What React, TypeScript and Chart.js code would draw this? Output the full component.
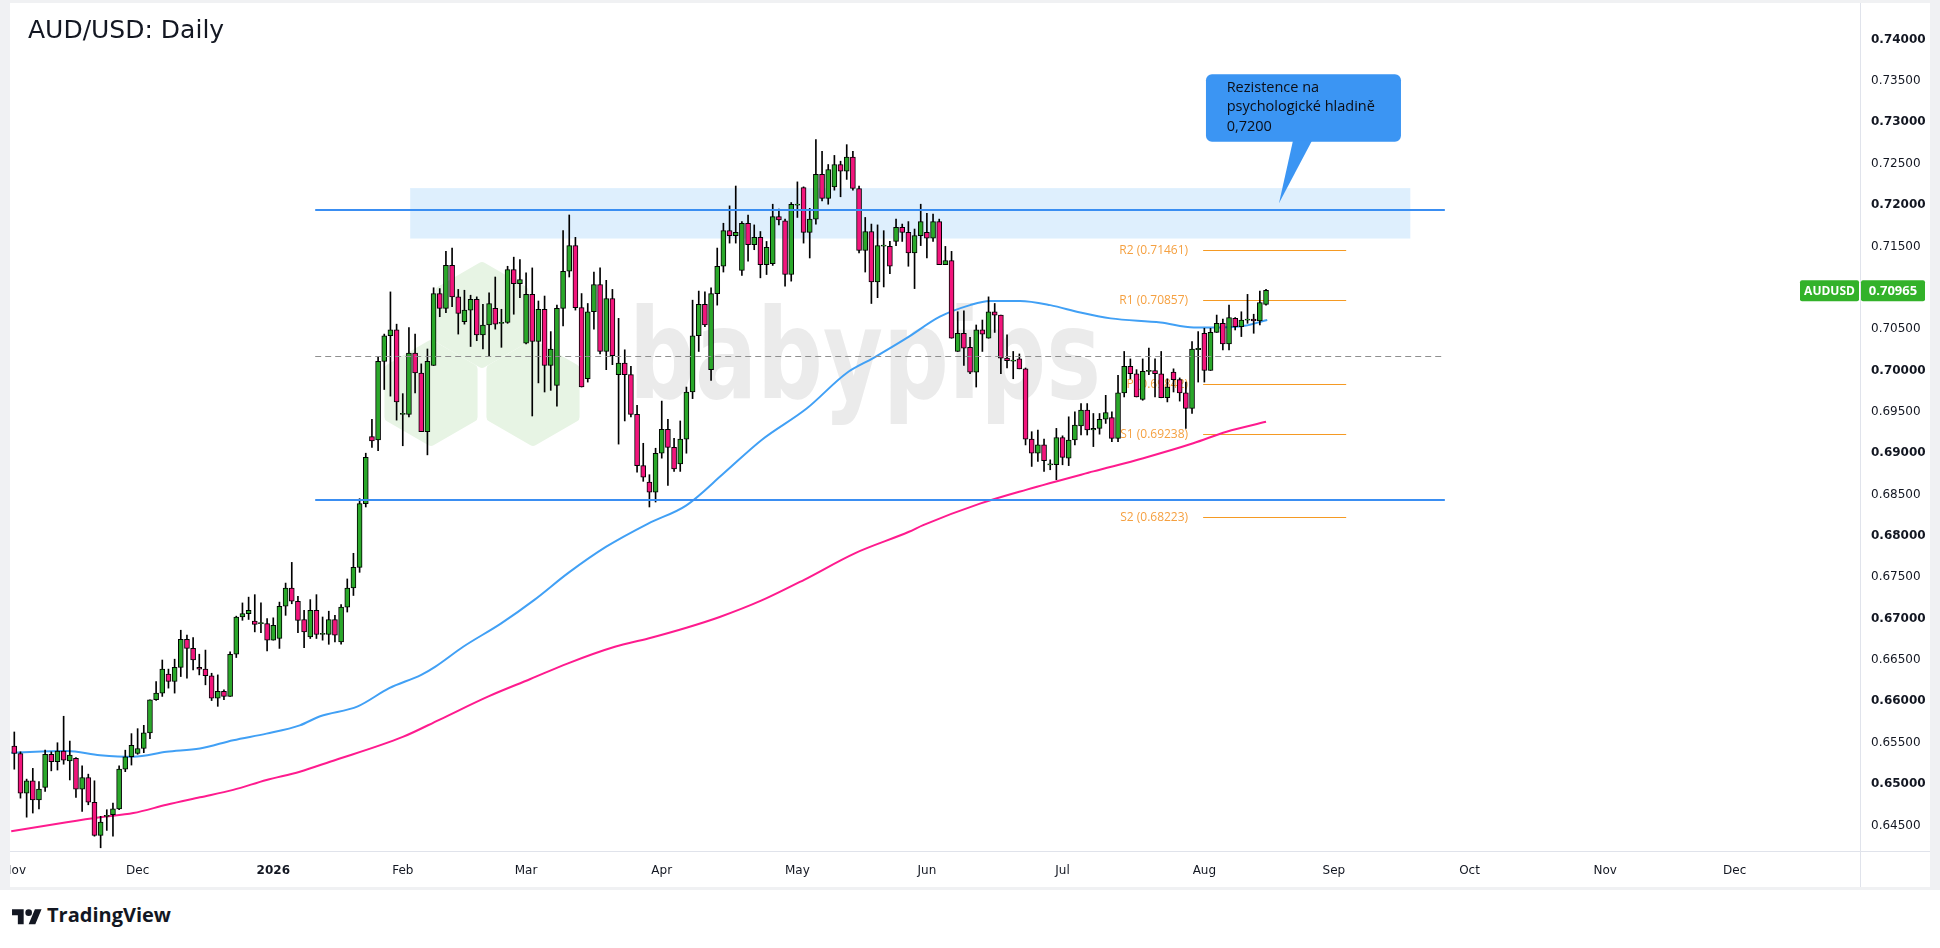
import React, { useEffect, useRef } from "react";
import { Chart, registerables } from "chart.js";

Chart.register(...registerables);

const AXIS_FONT = "'DejaVu Sans', sans-serif";
const UI_FONT = "'Open Sans', sans-serif";
const UP = "#2aa82a";
const DOWN = "#f2157c";
const TEXT = "#131722";

// ---- Daily candles (bar index 0 = first bar of Nov 2025) ----
const opens = [
  0.6546, 0.6537, 0.6489, 0.6504, 0.6481, 0.6496, 0.6536, 0.6527, 0.6540, 0.6528,
  0.6531, 0.6494, 0.6508, 0.6478, 0.6438, 0.6461, 0.6463, 0.6470, 0.6518, 0.6533,
  0.6537, 0.6543, 0.6562, 0.6602, 0.6610, 0.6633, 0.6624, 0.6641, 0.6675, 0.6664,
  0.6641, 0.6639, 0.6631, 0.6604, 0.6612, 0.6606, 0.6657, 0.6702, 0.6706, 0.6697,
  0.6694, 0.6694, 0.6674, 0.6676, 0.6715, 0.6737, 0.6721, 0.6699, 0.6678, 0.6710,
  0.6681, 0.6681, 0.6699, 0.6672, 0.6714, 0.6737, 0.6762, 0.6839, 0.6920, 0.6916,
  0.7011, 0.7042, 0.7049, 0.6947, 0.6947, 0.7021, 0.6997, 0.6926, 0.7006, 0.7093,
  0.7075, 0.7127, 0.7089, 0.7059, 0.7073, 0.7086, 0.7043, 0.7055, 0.7075, 0.7057,
  0.7058, 0.7122, 0.7105, 0.7033, 0.7092, 0.7035, 0.7074, 0.7006, 0.6982, 0.7075,
  0.7120, 0.7151, 0.7076, 0.6990, 0.7071, 0.7104, 0.7023, 0.7087, 0.6995, 0.7009,
  0.6995, 0.6947, 0.6885, 0.6865, 0.6853, 0.6900, 0.6929, 0.6907, 0.6887, 0.6917,
  0.6974, 0.7042, 0.7080, 0.7001, 0.7093, 0.7126, 0.7169, 0.7163, 0.7121, 0.7178,
  0.7152, 0.7161, 0.7128, 0.7129, 0.7186, 0.7181, 0.7116, 0.7200, 0.7221, 0.7167,
  0.7183, 0.7237, 0.7208, 0.7222, 0.7249, 0.7241, 0.7258, 0.7220, 0.7145, 0.7168,
  0.7107, 0.7151, 0.7150, 0.7156, 0.7173, 0.7167, 0.7142, 0.7163, 0.7167, 0.7160,
  0.7180, 0.7128, 0.7133, 0.7023, 0.7045, 0.7028, 0.6998, 0.7049, 0.7039, 0.7071,
  0.7067, 0.7015, 0.7012, 0.7014, 0.7002, 0.6917, 0.6900, 0.6910, 0.6886, 0.6886,
  0.6919, 0.6894, 0.6916, 0.6933, 0.6952, 0.6928, 0.6930, 0.6941, 0.6943, 0.6918,
  0.6973, 0.7005, 0.6996, 0.6965, 0.6999, 0.7000, 0.6996, 0.6967, 0.6998, 0.6989,
  0.6973, 0.6954, 0.7026, 0.7045, 0.7000, 0.7046, 0.7057, 0.7032, 0.7063, 0.7053,
  0.7061, 0.7062, 0.7060, 0.7080,
];

const highs = [
  0.6563, 0.6539, 0.6506, 0.6519, 0.6503, 0.6541, 0.6539, 0.6550, 0.6582, 0.6552,
  0.6532, 0.6522, 0.6512, 0.6504, 0.6461, 0.6469, 0.6477, 0.6522, 0.6541, 0.6561,
  0.6567, 0.6571, 0.6602, 0.6624, 0.6650, 0.6639, 0.6651, 0.6686, 0.6680, 0.6677,
  0.6657, 0.6662, 0.6634, 0.6632, 0.6614, 0.6660, 0.6703, 0.6719, 0.6726, 0.6729,
  0.6719, 0.6700, 0.6701, 0.6720, 0.6743, 0.6768, 0.6727, 0.6710, 0.6723, 0.6729,
  0.6702, 0.6709, 0.6704, 0.6717, 0.6748, 0.6779, 0.6845, 0.6900, 0.6941, 0.7016,
  0.7044, 0.7095, 0.7056, 0.6972, 0.7052, 0.7044, 0.7008, 0.7026, 0.7100, 0.7099,
  0.7144, 0.7148, 0.7098, 0.7097, 0.7091, 0.7089, 0.7080, 0.7094, 0.7113, 0.7074,
  0.7126, 0.7137, 0.7134, 0.7118, 0.7124, 0.7084, 0.7090, 0.7047, 0.7079, 0.7169,
  0.7188, 0.7161, 0.7093, 0.7081, 0.7119, 0.7124, 0.7109, 0.7098, 0.7063, 0.7025,
  0.7005, 0.6958, 0.6912, 0.6874, 0.6906, 0.6963, 0.6941, 0.6918, 0.6939, 0.6980,
  0.7085, 0.7096, 0.7095, 0.7100, 0.7148, 0.7178, 0.7199, 0.7223, 0.7180, 0.7188,
  0.7176, 0.7168, 0.7156, 0.7201, 0.7195, 0.7183, 0.7203, 0.7228, 0.7222, 0.7196,
  0.7279, 0.7265, 0.7249, 0.7260, 0.7253, 0.7273, 0.7265, 0.7223, 0.7185, 0.7177,
  0.7176, 0.7169, 0.7156, 0.7183, 0.7177, 0.7180, 0.7171, 0.7201, 0.7190, 0.7189,
  0.7183, 0.7150, 0.7144, 0.7071, 0.7072, 0.7040, 0.7055, 0.7061, 0.7089, 0.7081,
  0.7067, 0.7043, 0.7023, 0.7020, 0.7003, 0.6926, 0.6928, 0.6917, 0.6892, 0.6930,
  0.6921, 0.6944, 0.6950, 0.6960, 0.6960, 0.6948, 0.6948, 0.6970, 0.6950, 0.6994,
  0.7023, 0.7014, 0.7001, 0.7014, 0.7027, 0.7014, 0.7023, 0.6990, 0.7002, 0.6991,
  0.6986, 0.7035, 0.7047, 0.7051, 0.7051, 0.7067, 0.7062, 0.7079, 0.7064, 0.7071,
  0.7092, 0.7068, 0.7096, 0.7098,
];

const lows = [
  0.6518, 0.6483, 0.6460, 0.6465, 0.6470, 0.6491, 0.6516, 0.6517, 0.6524, 0.6505,
  0.6484, 0.6467, 0.6475, 0.6437, 0.6423, 0.6444, 0.6437, 0.6469, 0.6515, 0.6523,
  0.6536, 0.6538, 0.6555, 0.6601, 0.6606, 0.6616, 0.6610, 0.6630, 0.6628, 0.6638,
  0.6632, 0.6620, 0.6601, 0.6594, 0.6602, 0.6606, 0.6653, 0.6698, 0.6699, 0.6684,
  0.6683, 0.6661, 0.6674, 0.6664, 0.6704, 0.6718, 0.6683, 0.6665, 0.6676, 0.6676,
  0.6674, 0.6669, 0.6672, 0.6669, 0.6708, 0.6728, 0.6756, 0.6835, 0.6907, 0.6903,
  0.6977, 0.6969, 0.6940, 0.6909, 0.6944, 0.6973, 0.6926, 0.6898, 0.7006, 0.7065,
  0.7070, 0.7077, 0.7044, 0.7056, 0.7029, 0.7036, 0.7026, 0.7017, 0.7050, 0.7028,
  0.7057, 0.7068, 0.7088, 0.7032, 0.6945, 0.6985, 0.6974, 0.6976, 0.6957, 0.7054,
  0.7113, 0.7073, 0.6980, 0.6986, 0.7050, 0.7020, 0.7001, 0.7007, 0.6911, 0.6939,
  0.6944, 0.6877, 0.6866, 0.6835, 0.6841, 0.6894, 0.6861, 0.6878, 0.6878, 0.6900,
  0.6966, 0.7023, 0.7053, 0.6988, 0.7079, 0.7119, 0.7154, 0.7154, 0.7115, 0.7132,
  0.7146, 0.7112, 0.7116, 0.7127, 0.7176, 0.7102, 0.7108, 0.7185, 0.7154, 0.7136,
  0.7177, 0.7205, 0.7201, 0.7218, 0.7210, 0.7231, 0.7218, 0.7142, 0.7119, 0.7081,
  0.7088, 0.7101, 0.7117, 0.7151, 0.7156, 0.7126, 0.7099, 0.7151, 0.7136, 0.7156,
  0.7128, 0.7128, 0.7039, 0.7023, 0.7006, 0.6996, 0.6980, 0.7023, 0.7039, 0.7046,
  0.6996, 0.7003, 0.6990, 0.7002, 0.6910, 0.6884, 0.6890, 0.6878, 0.6880, 0.6868,
  0.6886, 0.6885, 0.6910, 0.6922, 0.6922, 0.6908, 0.6923, 0.6936, 0.6914, 0.6914,
  0.6968, 0.6990, 0.6968, 0.6964, 0.6995, 0.6968, 0.6967, 0.6962, 0.6974, 0.6963,
  0.6930, 0.6948, 0.6986, 0.6986, 0.7000, 0.7046, 0.7025, 0.7025, 0.7049, 0.7041,
  0.7057, 0.7045, 0.7055, 0.7079,
];

const closes = [
  0.6537, 0.6489, 0.6504, 0.6481, 0.6494, 0.6536, 0.6527, 0.6540, 0.6529, 0.6535,
  0.6494, 0.6508, 0.6478, 0.6438, 0.6454, 0.6462, 0.6470, 0.6518, 0.6533, 0.6547,
  0.6543, 0.6562, 0.6602, 0.6610, 0.6639, 0.6624, 0.6641, 0.6675, 0.6664, 0.6650,
  0.6639, 0.6631, 0.6604, 0.6612, 0.6606, 0.6657, 0.6702, 0.6706, 0.6710, 0.6693,
  0.6695, 0.6674, 0.6692, 0.6715, 0.6737, 0.6721, 0.6698, 0.6684, 0.6710, 0.6681,
  0.6682, 0.6699, 0.6680, 0.6714, 0.6737, 0.6762, 0.6839, 0.6895, 0.6915, 0.7011,
  0.7042, 0.7049, 0.6962, 0.6948, 0.7021, 0.6997, 0.6926, 0.7011, 0.7093, 0.7075,
  0.7127, 0.7089, 0.7069, 0.7073, 0.7086, 0.7043, 0.7055, 0.7081, 0.7056, 0.7058,
  0.7122, 0.7105, 0.7110, 0.7092, 0.7035, 0.7074, 0.7006, 0.7026, 0.7075, 0.7120,
  0.7151, 0.7076, 0.6980, 0.7071, 0.7104, 0.7023, 0.7087, 0.7018, 0.7009, 0.6995,
  0.6947, 0.6885, 0.6871, 0.6853, 0.6900, 0.6929, 0.6907, 0.6881, 0.6917, 0.6974,
  0.7042, 0.7080, 0.7055, 0.7093, 0.7126, 0.7169, 0.7163, 0.7167, 0.7178, 0.7152,
  0.7161, 0.7128, 0.7149, 0.7186, 0.7182, 0.7116, 0.7201, 0.7201, 0.7167, 0.7183,
  0.7237, 0.7208, 0.7243, 0.7249, 0.7241, 0.7258, 0.7220, 0.7145, 0.7168, 0.7107,
  0.7151, 0.7151, 0.7126, 0.7173, 0.7167, 0.7142, 0.7163, 0.7180, 0.7160, 0.7180,
  0.7128, 0.7133, 0.7039, 0.7045, 0.7027, 0.6998, 0.7049, 0.7044, 0.7071, 0.7067,
  0.7015, 0.7012, 0.7012, 0.7002, 0.6917, 0.6900, 0.6910, 0.6891, 0.6887, 0.6919,
  0.6895, 0.6916, 0.6934, 0.6952, 0.6928, 0.6930, 0.6941, 0.6949, 0.6918, 0.6973,
  0.7005, 0.6996, 0.6968, 0.6999, 0.7000, 0.6996, 0.6967, 0.6980, 0.6989, 0.6973,
  0.6954, 0.7026, 0.7026, 0.7000, 0.7046, 0.7057, 0.7032, 0.7064, 0.7053, 0.7061,
  0.7062, 0.7060, 0.7082, 0.7097,
];

// ---- Moving averages (bar index, value) ----
const blueMaIdx = [
  -0.5, 8.5, 13.9, 19.3, 24.7, 30.1, 35.5, 40.9, 46.3, 49.6, 55.7, 60.8, 66.0, 68.3,
  72.8, 78.9, 84.4, 89.8, 96.0, 102.8, 109.0, 115.1, 121.2, 128.5, 135.0, 139.3,
  144.7, 150.1, 155.0, 158.2, 163.1, 168.0, 172.9, 177.8, 185.9, 191.3, 195.7, 199.5, 203.2,
];
const blueMaVal = [
  0.6538, 0.6540, 0.6535, 0.6533, 0.6539, 0.6543, 0.6553, 0.6561, 0.6571, 0.6582, 0.6594,
  0.6616, 0.6632, 0.6642, 0.6666, 0.6694, 0.6723, 0.6755, 0.6787, 0.6815, 0.6837, 0.6876,
  0.6916, 0.6954, 0.6997, 0.7015, 0.7039, 0.7065, 0.7079, 0.7084, 0.7084, 0.7079, 0.7070,
  0.7063, 0.7058, 0.7052, 0.7052, 0.7054, 0.7061,
];
const pinkMaIdx = [
  -0.5, 8.5, 13.9, 19.3, 24.7, 30.1, 35.5, 40.9, 46.3, 51.2, 63.0, 69.0, 76.9, 83.7,
  89.8, 97.4, 102.8, 109.0, 114.4, 121.2, 128.1, 136.3, 145.1, 147.4, 156.6, 164.2,
  175.0, 183.1, 191.2, 196.6, 203.0,
];
const pinkMaVal = [
  0.6443, 0.6454, 0.6460, 0.6465, 0.6475, 0.6484, 0.6493, 0.6505, 0.6515, 0.6527, 0.6557,
  0.6578, 0.6606, 0.6627, 0.6646, 0.6666, 0.6676, 0.6689, 0.6702, 0.6722, 0.6747, 0.6779,
  0.6805, 0.6813, 0.6839, 0.6856, 0.6878, 0.6894, 0.6912, 0.6926, 0.6938,
];

// ---- Axis ticks ----
const monthLabels = ["Nov", "Dec", "2026", "Feb", "Mar", "Apr", "May", "Jun", "Jul", "Aug", "Sep", "Oct", "Nov", "Dec"];
const monthBarIdx = [0, 20, 42, 63, 83, 105, 127, 148, 170, 193, 214, 236, 258, 279];
const priceTicks = [
  0.645, 0.65, 0.655, 0.66, 0.665, 0.67, 0.675, 0.68, 0.685, 0.69,
  0.695, 0.7, 0.705, 0.71, 0.715, 0.72, 0.725, 0.73, 0.735, 0.74,
];

// ---- Drawings ----
const resistanceLevels = [0.71935, 0.6843];
const levelStartIdx = 48.8;
const levelEndIdx = 232.0;
const zoneTop = 0.72205;
const zoneBottom = 0.71595;
const zoneStartIdx = 64.2;
const zoneEndIdx = 226.4;
const midLevel = 0.70175;
const pivotNames = ["R2", "R1", "P", "S1", "S2"];
const pivotValues = [0.71461, 0.70857, 0.69842, 0.69238, 0.68223];
const pivotStartIdx = 192.8;
const pivotEndIdx = 216;
const lastPrice = 0.70965;
const calloutIdx = 205.1;
const calloutPrice = 0.72021;
const calloutLines = ["Rezistence na", "psychologické hladině", "0,7200"];

const xMin = -0.6974;
const xMax = 299.33;
const yMin = 0.641911;
const yMax = 0.744425;

function roundRectPath(ctx: CanvasRenderingContext2D, x: number, y: number, w: number, h: number, r: number) {
  ctx.beginPath();
  ctx.moveTo(x + r, y);
  ctx.arcTo(x + w, y, x + w, y + h, r);
  ctx.arcTo(x + w, y + h, x, y + h, r);
  ctx.arcTo(x, y + h, x, y, r);
  ctx.arcTo(x, y, x + w, y, r);
  ctx.closePath();
}

function hexPath(ctx: CanvasRenderingContext2D, cx: number, cy: number, r: number) {
  ctx.beginPath();
  for (let k = 0; k < 6; k++) {
    const a = (Math.PI / 180) * (60 * k - 90);
    const px = cx + r * Math.cos(a);
    const py = cy + r * Math.sin(a);
    if (k === 0) ctx.moveTo(px, py);
    else ctx.lineTo(px, py);
  }
  ctx.closePath();
}

const overlayPlugin = {
  id: "overlay",
  beforeDatasetsDraw(chart: any) {
    const { ctx, chartArea: a, scales } = chart;
    const x = scales.x;
    const y = scales.y;
    ctx.save();
    ctx.beginPath();
    ctx.rect(a.left, a.top, a.right - a.left, a.bottom - a.top);
    ctx.clip();

    // watermark: hexagons
    ctx.fillStyle = "#e7f4e4";
    ctx.strokeStyle = "#e7f4e4";
    ctx.lineWidth = 10;
    ctx.lineJoin = "round";
    const hexes = [
      [472, 312],
      [421, 390],
      [523, 390],
    ];
    hexes.forEach(([cx, cy]) => {
      hexPath(ctx, cx, cy, 48);
      ctx.fill();
      ctx.stroke();
    });

    // watermark: text
    ctx.font = `bold 125px ${AXIS_FONT}`;
    const w = ctx.measureText("babypips").width;
    ctx.save();
    ctx.translate(619, 395);
    ctx.scale(472 / w, 1);
    ctx.fillStyle = "#ebebeb";
    ctx.textAlign = "left";
    ctx.textBaseline = "alphabetic";
    ctx.fillText("babypips", 0, 0);
    ctx.restore();

    // resistance zone
    const zx1 = x.getPixelForValue(zoneStartIdx);
    const zx2 = x.getPixelForValue(zoneEndIdx);
    const zy1 = y.getPixelForValue(zoneTop);
    const zy2 = y.getPixelForValue(zoneBottom);
    ctx.fillStyle = "rgba(33,150,243,0.15)";
    ctx.fillRect(zx1, zy1, zx2 - zx1, zy2 - zy1);

    // pivot points
    const px1 = x.getPixelForValue(pivotStartIdx);
    const px2 = x.getPixelForValue(pivotEndIdx);
    ctx.font = `12px ${UI_FONT}`;
    ctx.textAlign = "right";
    ctx.textBaseline = "middle";
    pivotValues.forEach((v, i) => {
      const py = Math.round(y.getPixelForValue(v)) + 0.5;
      ctx.strokeStyle = "#f59a23";
      ctx.lineWidth = 1;
      ctx.beginPath();
      ctx.moveTo(px1, py);
      ctx.lineTo(px2, py);
      ctx.stroke();
      ctx.fillStyle = "#f5a040";
      ctx.fillText(`${pivotNames[i]} (${v.toFixed(5)})`, px1 - 15, py);
    });
    ctx.restore();
  },
  afterDatasetsDraw(chart: any) {
    const { ctx, chartArea: a, scales } = chart;
    const x = scales.x;
    const y = scales.y;
    ctx.save();
    ctx.beginPath();
    ctx.rect(a.left, a.top, a.right - a.left, a.bottom - a.top);
    ctx.clip();
    const lx1 = x.getPixelForValue(levelStartIdx);
    const lx2 = x.getPixelForValue(levelEndIdx);

    // dashed level
    const dy = Math.round(y.getPixelForValue(midLevel)) + 0.5;
    ctx.strokeStyle = "#8f8f8f";
    ctx.lineWidth = 1;
    ctx.setLineDash([6, 4]);
    ctx.beginPath();
    ctx.moveTo(lx1, dy);
    ctx.lineTo(lx2, dy);
    ctx.stroke();
    ctx.setLineDash([]);

    // horizontal resistance/support lines
    ctx.strokeStyle = "#3a8ef2";
    ctx.lineWidth = 2;
    resistanceLevels.forEach((v) => {
      const ly = Math.round(y.getPixelForValue(v));
      ctx.beginPath();
      ctx.moveTo(lx1, ly);
      ctx.lineTo(lx2, ly);
      ctx.stroke();
    });
    ctx.restore();
  },
  afterDraw(chart: any) {
    const { ctx, chartArea: a, scales, width, height } = chart;
    const x = scales.x;
    const y = scales.y;
    ctx.save();

    // axis separators
    ctx.strokeStyle = "#e0e3eb";
    ctx.lineWidth = 1;
    ctx.beginPath();
    ctx.moveTo(Math.round(a.right) + 0.5, 0);
    ctx.lineTo(Math.round(a.right) + 0.5, height);
    ctx.moveTo(0, Math.round(a.bottom) + 0.5);
    ctx.lineTo(width, Math.round(a.bottom) + 0.5);
    ctx.stroke();

    // last price labels
    const ly = y.getPixelForValue(lastPrice);
    ctx.fillStyle = "#33b22a";
    roundRectPath(ctx, a.right - 60, ly - 10.5, 59, 21, 2);
    ctx.fill();
    roundRectPath(ctx, a.right + 1, ly - 10.5, 64, 21, 2);
    ctx.fill();
    ctx.fillStyle = "#ffffff";
    ctx.textBaseline = "middle";
    ctx.textAlign = "center";
    ctx.font = `bold 12px ${UI_FONT}`;
    ctx.fillText("AUDUSD", a.right - 30.5, ly + 0.5);
    ctx.font = `bold 13px ${UI_FONT}`;
    ctx.fillText(lastPrice.toFixed(5), a.right + 33, ly + 0.5);

    // callout
    const tx = x.getPixelForValue(calloutIdx);
    const ty = y.getPixelForValue(calloutPrice);
    const bx = tx - 73;
    const by = ty - 129;
    const bw = 195;
    const bh = 67.4;
    ctx.fillStyle = "#3b95f3";
    roundRectPath(ctx, bx, by, bw, bh, 6);
    ctx.fill();
    ctx.beginPath();
    ctx.moveTo(tx + 14, by + bh - 1);
    ctx.lineTo(tx + 33, by + bh - 1);
    ctx.lineTo(tx, ty);
    ctx.closePath();
    ctx.fill();
    ctx.fillStyle = "#0b0e16";
    ctx.font = `500 14.5px ${UI_FONT}`;
    ctx.textAlign = "left";
    ctx.textBaseline = "alphabetic";
    calloutLines.forEach((t, i) => {
      ctx.fillText(t, bx + 20.7, ty - 111.3 + i * 19.3);
    });
    ctx.restore();
  },
};

function buildConfig() {
  const wickData = lows.map((l, i) => ({ x: i, y: [l, highs[i]] }));
  const bodyData = opens.map((o, i) => {
    const c = closes[i];
    let lo = Math.min(o, c);
    let hi = Math.max(o, c);
    if (hi - lo < 0.00012) {
      const m = (lo + hi) / 2;
      lo = m - 0.00007;
      hi = m + 0.00007;
    }
    return { x: i, y: [lo, hi] };
  });
  const blueData = blueMaIdx.map((ix, i) => ({ x: ix, y: blueMaVal[i] }));
  const pinkData = pinkMaIdx.map((ix, i) => ({ x: ix, y: pinkMaVal[i] }));

  return {
    type: "bar",
    data: {
      datasets: [
        {
          type: "line",
          label: "MA 200",
          data: pinkData,
          borderColor: "#fe1b8e",
          borderWidth: 2,
          pointRadius: 0,
          fill: false,
          cubicInterpolationMode: "monotone",
          order: 3,
        },
        {
          type: "line",
          label: "MA 100",
          data: blueData,
          borderColor: "#41a0f5",
          borderWidth: 2,
          pointRadius: 0,
          fill: false,
          cubicInterpolationMode: "monotone",
          order: 2,
        },
        {
          type: "bar",
          label: "wicks",
          data: wickData,
          backgroundColor: "#000000",
          borderWidth: 0,
          barThickness: 1,
          grouped: false,
          order: 1,
        },
        {
          type: "bar",
          label: "bodies",
          data: bodyData,
          backgroundColor: (c: any) =>
            closes[c.dataIndex] >= opens[c.dataIndex] ? UP : DOWN,
          borderColor: "#000000",
          borderWidth: 1,
          borderSkipped: false,
          barThickness: 5,
          grouped: false,
          order: 0,
        },
      ],
    },
    options: {
      animation: false,
      responsive: false,
      events: [],
      layout: { padding: 0 },
      plugins: {
        legend: { display: false },
        tooltip: { enabled: false },
        title: { display: false },
      },
      scales: {
        x: {
          type: "linear",
          min: xMin,
          max: xMax,
          offset: false,
          grid: { display: false, drawTicks: false },
          border: { display: false },
          afterBuildTicks: (s: any) => {
            s.ticks = monthBarIdx.map((v) => ({ value: v }));
          },
          afterFit: (s: any) => {
            s.height = 36;
            s.paddingLeft = 0;
            s.paddingRight = 0;
          },
          ticks: {
            autoSkip: false,
            maxRotation: 0,
            minRotation: 0,
            padding: 13,
            color: TEXT,
            font: (c: any) => ({
              family: AXIS_FONT,
              size: 12,
              weight: monthLabels[c.index] === "2026" ? "bold" : "normal",
            }),
            callback: (_v: any, i: number) => monthLabels[i],
          },
        },
        y: {
          type: "linear",
          position: "right",
          min: yMin,
          max: yMax,
          grid: { display: false, drawTicks: false },
          border: { display: false },
          afterBuildTicks: (s: any) => {
            s.ticks = priceTicks.map((v) => ({ value: v }));
          },
          afterFit: (s: any) => {
            s.width = 70;
            s.paddingTop = 0;
            s.paddingBottom = 0;
          },
          ticks: {
            padding: 11,
            color: TEXT,
            font: (c: any) => ({
              family: AXIS_FONT,
              size: 12,
              weight:
                c.tick && Math.round(c.tick.value * 1000) % 10 === 0 ? "bold" : "normal",
            }),
            callback: (v: any) => Number(v).toFixed(5),
          },
        },
      },
    },
    plugins: [overlayPlugin],
  };
}

export default function App() {
  const canvasRef = useRef<HTMLCanvasElement | null>(null);

  useEffect(() => {
    const canvas = canvasRef.current;
    if (!canvas) return;
    const chart = new Chart(canvas, buildConfig() as any);
    return () => {
      chart.destroy();
    };
  }, []);

  return (
    <div
      style={{
        position: "absolute",
        left: 0,
        top: 0,
        width: 1940,
        height: 948,
        background: "#ffffff",
        overflow: "hidden",
      }}
    >
      <div style={{ position: "absolute", left: 0, top: 0, width: 1940, height: 890, background: "#f0f1f3" }} />
      <div style={{ position: "absolute", left: 10, top: 3, width: 1920, height: 884, background: "#ffffff" }}>
        <canvas ref={canvasRef} width={1920} height={884} style={{ display: "block", width: 1920, height: 884 }} />
      </div>
      <div
        style={{
          position: "absolute",
          left: 28,
          top: 17,
          font: `25px ${AXIS_FONT}`,
          lineHeight: "25px",
          color: TEXT,
          whiteSpace: "nowrap",
        }}
      >
        AUD/USD: Daily
      </div>
      <svg
        style={{ position: "absolute", left: 12, top: 906 }}
        width={30}
        height={23.3}
        viewBox="0 0 36 28"
      >
        <path d="M14 22H7V11H0V4h14v18zM28 22h-8l7.5-18h8L28 22z" fill="#131722" />
        <circle cx="20" cy="8" r="4" fill="#131722" />
      </svg>
      <div
        style={{
          position: "absolute",
          left: 47,
          top: 905,
          font: `700 20px ${UI_FONT}`,
          lineHeight: "20px",
          color: TEXT,
          whiteSpace: "nowrap",
        }}
      >
        TradingView
      </div>
    </div>
  );
}
